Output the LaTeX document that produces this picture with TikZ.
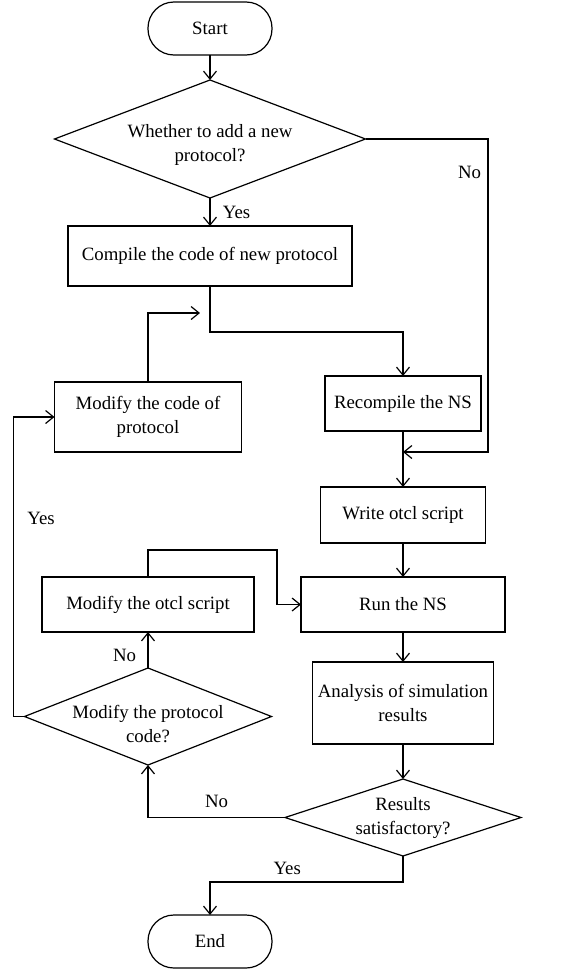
\documentclass[tikz,border=0pt]{standalone}
\usepackage{fontspec}
\setmainfont{Liberation Serif}
\usepackage{tikz}
\usetikzlibrary{positioning}
\usetikzlibrary{shapes.geometric}
\usetikzlibrary{arrows.meta}
\tikzset{barb/.tip={Straight Barb[length=8pt,width=13pt]}}
\tikzset{
    terminal/.style={draw,rectangle,rounded corners=26pt,outer sep=0pt,minimum width=124pt,minimum height=53pt},
    process/.style={draw,rectangle,align=center,inner sep=0pt,outer sep=0pt},
    decision/.style={draw,diamond,align=center,inner sep=0pt,outer sep=0pt}
}

\begin{document}
\begin{tikzpicture}[line width=1.2pt,>=barb,font=\fontsize{18.8}{24}\selectfont]
            \useasboundingbox (-210pt,28.5pt) rectangle (374pt,-943.5pt);

            \node (start)                                                              [terminal] {Start};
            \node (q1) [decision,aspect=2.636,minimum width=311pt,minimum height=118pt,below=25pt of start] {\rule{0pt}{25pt}Whether to add a new\\protocol?};
            \node (compile) [process,minimum width=284pt,minimum height=60pt,below=28pt of q1] {Compile the code of new protocol};
            \node (recompile) [process,minimum width=156pt,minimum height=55pt,below=90pt of compile,xshift=193pt] {Recompile the NS};
            \node (write) [process,minimum width=165pt,minimum height=56pt,below=56pt of recompile] {Write otcl script};
            \node (run) [process,minimum width=204pt,minimum height=55pt,below=34pt of write] {Run the NS};
            \node (analysis) [process,minimum width=181pt,minimum height=82pt,below=30pt of run] {Analysis of simulation\\results};
            \node (q3) [decision,aspect=3.065,minimum width=236pt,minimum height=77pt,below=35pt of analysis] {Results\\satisfactory?};
            \node (stop) [terminal,below=59pt of q3,xshift=-193pt] {End};
            \node (modotcl) [process,minimum width=212pt,minimum height=55pt,left=47pt of run] {Modify the otcl script};
            \node (modcode) [process,minimum width=187pt,minimum height=70pt,above=125pt of modotcl] {Modify the code of\\protocol};
            \node (q2) [decision,aspect=2.546,minimum width=247pt,minimum height=97pt,inner xsep=-21pt,inner ysep=-3pt,below=36pt of modotcl] {\rule{0pt}{29pt}Modify the protocol\\code?};

            \coordinate (join) at ([yshift=-21pt]recompile.south);
            \coordinate (loopin) at ([shift={(-10pt,-27pt)}]compile.south);

            \draw[->] (start) -- (q1);
            \draw[->] (q1) -- node[right=9pt] {Yes} (compile);
            \draw[->] (q1.east) -| node[pos=0.553,left=3pt] {No} ([xshift=85pt]join) -- (join);
            \draw[->] (compile.south) -- ++(0,-46pt) -| (recompile.north);
            \draw[->] (modcode.north) |- (loopin);
            \draw[->] (recompile) -- (write);
            \draw[->] (write) -- (run);
            \draw[->] (run) -- (analysis);
            \draw[->] (analysis) -- (q3);
            \draw[->] (modotcl.north) -- ++(0,27pt) -| ([xshift=-24pt]run.west) -- (run.west);
            \draw[->] (q3.west) -| node[pos=0.25,above=6pt] {No} (q2.south);
            \draw[->] (q2.north) -- node[pos=0.35,left=8pt] {No} (modotcl.south);
            \draw[->] (q2.west) -- ++(-11pt,0) |- node[pos=0.33,right=10pt] {Yes} (modcode.west);
            \draw[->] (q3.south) -- ++(0,-26pt) -| node[pos=0.3,above=3pt] {Yes} (stop.north);
        \end{tikzpicture}
\end{document}
